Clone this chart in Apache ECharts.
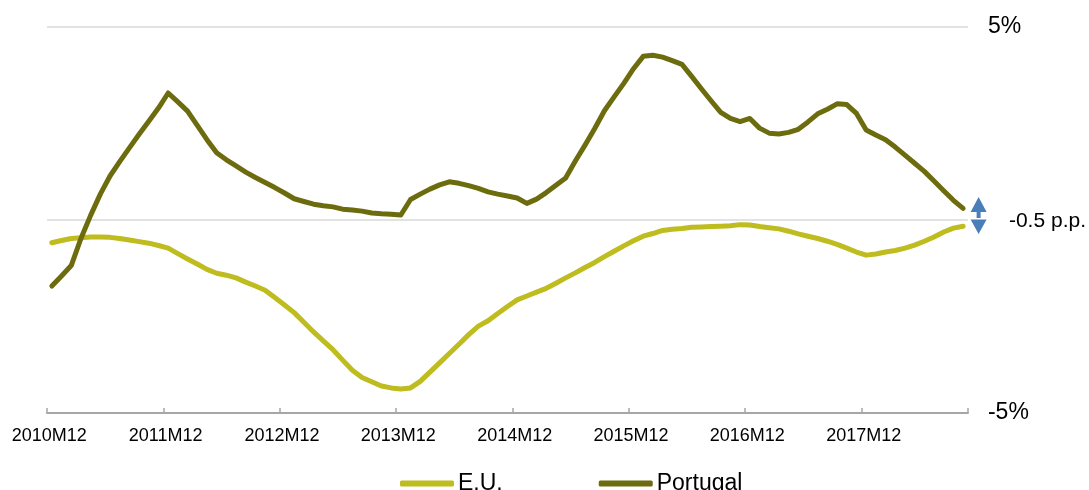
<!DOCTYPE html>
<html>
<head>
<meta charset="utf-8">
<script src="https://cdn.jsdelivr.net/npm/echarts@6/dist/echarts.min.js"></script>
<style>
html,body{margin:0;padding:0;background:#fff;}
#chart{width:1089px;height:490px;}
</style>
</head>
<body>
<div id="chart"></div>
<script>
var categories = [
 '2010M12',
 '2011M01','2011M02','2011M03','2011M04','2011M05','2011M06','2011M07','2011M08','2011M09','2011M10','2011M11','2011M12',
 '2012M01','2012M02','2012M03','2012M04','2012M05','2012M06','2012M07','2012M08','2012M09','2012M10','2012M11','2012M12',
 '2013M01','2013M02','2013M03','2013M04','2013M05','2013M06','2013M07','2013M08','2013M09','2013M10','2013M11','2013M12',
 '2014M01','2014M02','2014M03','2014M04','2014M05','2014M06','2014M07','2014M08','2014M09','2014M10','2014M11','2014M12',
 '2015M01','2015M02','2015M03','2015M04','2015M05','2015M06','2015M07','2015M08','2015M09','2015M10','2015M11','2015M12',
 '2016M01','2016M02','2016M03','2016M04','2016M05','2016M06','2016M07','2016M08','2016M09','2016M10','2016M11','2016M12',
 '2017M01','2017M02','2017M03','2017M04','2017M05','2017M06','2017M07','2017M08','2017M09','2017M10','2017M11','2017M12',
 '2018M01','2018M02','2018M03','2018M04','2018M05','2018M06','2018M07','2018M08','2018M09','2018M10'
];

var euValues = [
 -0.59,
 -0.53,-0.48,-0.46,-0.44,-0.44,-0.45,-0.48,-0.52,-0.56,-0.60,-0.66,-0.73,
 -0.87,-1.01,-1.14,-1.28,-1.38,-1.43,-1.50,-1.61,-1.71,-1.82,-2.01,-2.20,
 -2.40,-2.65,-2.90,-3.13,-3.36,-3.63,-3.89,-4.08,-4.19,-4.30,-4.35,-4.38,
 -4.35,-4.18,-3.94,-3.70,-3.46,-3.22,-2.97,-2.75,-2.61,-2.42,-2.24,-2.07,
 -1.97,-1.87,-1.77,-1.64,-1.50,-1.37,-1.23,-1.10,-0.95,-0.81,-0.67,-0.54,
 -0.42,-0.35,-0.27,-0.24,-0.22,-0.19,-0.18,-0.17,-0.16,-0.15,-0.12,-0.13,
 -0.17,-0.20,-0.23,-0.29,-0.36,-0.42,-0.48,-0.55,-0.63,-0.73,-0.83,-0.91,
 -0.88,-0.83,-0.79,-0.73,-0.65,-0.55,-0.44,-0.31,-0.21,-0.16
];

var portugalValues = [
 -1.71,
 -1.45,-1.18,-0.48,0.12,0.67,1.14,1.51,1.87,2.22,2.56,2.90,3.29,
 3.06,2.82,2.45,2.08,1.74,1.56,1.40,1.24,1.10,0.97,0.84,0.70,
 0.55,0.48,0.41,0.37,0.34,0.28,0.26,0.23,0.18,0.16,0.15,0.13,
 0.53,0.67,0.80,0.91,0.99,0.95,0.89,0.82,0.73,0.67,0.62,0.57,
 0.43,0.54,0.71,0.90,1.09,1.53,1.94,2.37,2.83,3.19,3.54,3.92,
 4.24,4.27,4.22,4.13,4.03,3.72,3.40,3.09,2.79,2.63,2.55,2.63,
 2.38,2.25,2.23,2.27,2.35,2.54,2.75,2.87,3.01,2.99,2.76,2.33,
 2.20,2.08,1.89,1.68,1.47,1.26,1.01,0.76,0.51,0.30
];

var yTickValues = [-5, 0, 5];
var yTickLabels = ['-5%', '-0.5 p.p.', '5%'];
var seriesNames = ['E.U.', 'Portugal'];

var FONT = "'Liberation Sans', Arial, sans-serif";
var chart = echarts.init(document.getElementById('chart'), null, {renderer: 'canvas'});

chart.setOption({
  animation: false,
  backgroundColor: '#ffffff',
  grid: {left: 47, right: 121, top: 27, bottom: 77},
  legend: {
    data: seriesNames,
    left: 400,
    top: 472,
    padding: 0,
    itemGap: 96,
    itemWidth: 54,
    itemHeight: 6,
    icon: 'roundRect',
    textStyle: {fontFamily: FONT, fontSize: 23, color: '#000', padding: [0, 0, 0, -1]}
  },
  xAxis: {
    type: 'category',
    data: categories,
    boundaryGap: true,
    axisLine: {show: true, onZero: false, lineStyle: {color: '#A6A6A6', width: 2}},
    axisTick: {
      show: true, inside: true, length: 5,
      interval: function (idx) { return idx % 12 === 0; },
      lineStyle: {color: '#A6A6A6', width: 1.5}
    },
    axisLabel: {
      interval: function (idx) { return idx % 12 === 0; },
      fontFamily: FONT, fontSize: 18, color: '#000',
      margin: 14,
      padding: [0, 5, 0, 0]
    },
    splitLine: {show: false}
  },
  yAxis: {
    type: 'value',
    position: 'right',
    min: -5, max: 5, interval: 5,
    axisLine: {show: false},
    axisTick: {show: false},
    splitLine: {show: true, lineStyle: {color: '#D9D9D9', width: 1.5}},
    axisLabel: {
      margin: 20,
      fontFamily: FONT, fontSize: 23, color: '#000',
      formatter: function (v) {
        var k = yTickValues.indexOf(v);
        if (k < 0) return '';
        if (v === 0) return '{pp|' + yTickLabels[k] + '}';
        return yTickLabels[k];
      },
      rich: {
        pp: {fontFamily: FONT, fontSize: 21, color: '#000', padding: [3, 0, 0, 21]}
      }
    }
  },
  series: [
    {
      name: seriesNames[0],
      type: 'line',
      data: euValues,
      showSymbol: false,
      symbol: 'none',
      color: '#BEBC1E',
      lineStyle: {width: 5, color: '#BEBC1E', cap: 'round', join: 'round'},
      z: 3,
      markPoint: {
        silent: true,
        symbol: 'path://M8,0 L16,15 L10,15 L10,21 L6,21 L6,15 L0,15 Z M0,22.5 L16,22.5 L8,37 Z',
        symbolSize: [16, 37],
        symbolOffset: [15.5, -4.5],
        itemStyle: {color: '#4A7EBB'},
        label: {show: false},
        data: [{coord: [categories[categories.length - 1], 0]}]
      }
    },
    {
      name: seriesNames[1],
      type: 'line',
      data: portugalValues,
      showSymbol: false,
      symbol: 'none',
      color: '#6C6C0F',
      lineStyle: {width: 5, color: '#6C6C0F', cap: 'round', join: 'round'},
      z: 4
    }
  ]
});
</script>
</body>
</html>
